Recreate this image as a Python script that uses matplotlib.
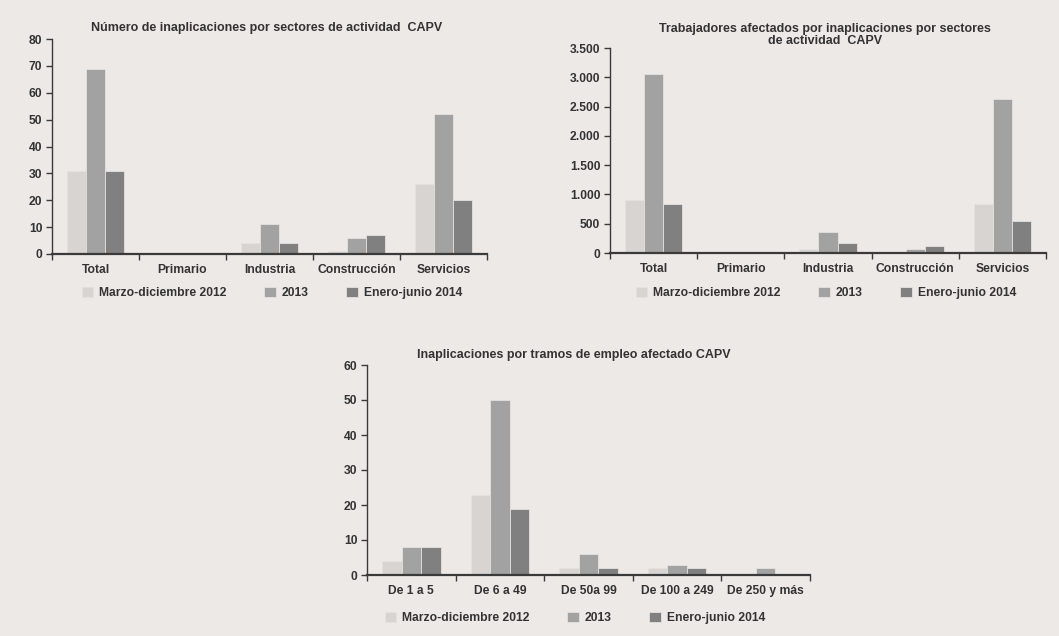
import matplotlib
matplotlib.use("Agg")
import matplotlib.pyplot as plt
from matplotlib.ticker import FuncFormatter
import numpy as np

plt.rcParams["font.family"] = ["Liberation Sans", "DejaVu Sans"]
plt.rcParams["font.weight"] = "bold"

series_names = ["Marzo-diciembre 2012", "2013", "Enero-junio 2014"]
colors = ["#d7d4d1", "#a2a2a2", "#808080"]

sectors = ["Total", "Primario", "Industria", "Construcción", "Servicios"]
inaplicaciones_2012 = [31, 0, 4, 1, 26]
inaplicaciones_2013 = [69, 0, 11, 6, 52]
inaplicaciones_2014 = [31, 0, 4, 7, 20]

trabajadores_2012 = [900, 0, 70, 20, 835]
trabajadores_2013 = [3050, 0, 360, 75, 2630]
trabajadores_2014 = [830, 0, 165, 125, 550]

tramos = ["De 1 a 5", "De 6 a 49", "De 50a 99", "De 100 a 249", "De 250 y más"]
tramos_2012 = [4, 23, 2, 2, 0]
tramos_2013 = [8, 50, 6, 3, 2]
tramos_2014 = [8, 19, 2, 2, 0]

BG = "#ede9e6"
TXT = "#333333"
AX = "#3a3a3a"
FS = 8.7
TFS = 9.0

fig = plt.figure(figsize=(10.59, 6.36), dpi=100, facecolor=BG)
W, H = 1059, 636


def px_axes(x0, y0, x1, y1):
    return fig.add_axes([x0 / W, 1 - y1 / H, (x1 - x0) / W, (y1 - y0) / H])


def draw(ax, cats, data, ymax, step, thousands=False):
    ax.set_facecolor(BG)
    n = len(cats)
    x = np.arange(n)
    bw = 0.22
    for i, (vals, c) in enumerate(zip(data, colors)):
        ax.bar(x + (i - 1) * bw, vals, bw, color=c, edgecolor="#e4e1de",
               linewidth=0.6, label=series_names[i], zorder=2)
    ax.set_xlim(-0.5, n - 0.5)
    ax.set_ylim(0, ymax)
    ax.set_yticks(np.arange(0, ymax + step / 2, step))
    if thousands:
        ax.yaxis.set_major_formatter(FuncFormatter(
            lambda v, p: f"{int(v):,}".replace(",", ".")))
    ax.set_xticks(x)
    ax.set_xticklabels(cats)
    ax.set_xticks(np.arange(-0.5, n, 1.0), minor=True)
    ax.tick_params(axis="x", which="major", length=0, pad=7,
                   labelsize=FS, labelcolor=TXT)
    ax.tick_params(axis="x", which="minor", length=4, width=1.0,
                   color=AX, direction="out")
    ax.tick_params(axis="y", length=4, width=1.0, color=AX,
                   labelsize=FS, labelcolor=TXT, pad=3)
    for s in ["top", "right"]:
        ax.spines[s].set_visible(False)
    ax.spines["left"].set_color(AX)
    ax.spines["bottom"].set_color(AX)
    ax.spines["left"].set_linewidth(1.0)
    ax.spines["bottom"].set_linewidth(1.6)
    for lab in ax.get_xticklabels() + ax.get_yticklabels():
        lab.set_fontweight("bold")
    return ax


def add_legend(ax, cx, cy):
    leg = fig.legend(*ax.get_legend_handles_labels(), loc="center",
                     bbox_to_anchor=(cx / W, 1 - cy / H), ncol=3, frameon=False,
                     fontsize=FS, handlelength=0.95, handleheight=0.9,
                     columnspacing=3.1, handletextpad=0.5, labelcolor=TXT)
    for t in leg.get_texts():
        t.set_fontweight("bold")


# Chart 1: number of inaplicaciones by sector
ax1 = px_axes(52, 39, 487, 254)
draw(ax1, sectors, [inaplicaciones_2012, inaplicaciones_2013, inaplicaciones_2014],
     80, 10)
fig.text(267 / W, 1 - 28 / H,
         "Número de inaplicaciones por sectores de actividad  CAPV",
         ha="center", va="center", fontsize=TFS, color=TXT, fontweight="bold")
add_legend(ax1, 272, 293)

# Chart 2: workers affected by sector
ax2 = px_axes(610, 48, 1046, 253)
draw(ax2, sectors, [trabajadores_2012, trabajadores_2013, trabajadores_2014],
     3500, 500, thousands=True)
fig.text(825 / W, 1 - 35 / H,
         "Trabajadores afectados por inaplicaciones por sectores\nde actividad  CAPV",
         ha="center", va="center", fontsize=TFS, color=TXT, fontweight="bold",
         linespacing=1.05)
add_legend(ax2, 826, 293)

# Chart 3: inaplicaciones by employment band
ax3 = px_axes(367, 365, 810, 575)
draw(ax3, tramos, [tramos_2012, tramos_2013, tramos_2014], 60, 10)
fig.text(574 / W, 1 - 355 / H,
         "Inaplicaciones por tramos de empleo afectado CAPV",
         ha="center", va="center", fontsize=TFS, color=TXT, fontweight="bold")
add_legend(ax3, 575, 618)

fig.savefig("out.png", dpi=100, facecolor=BG)
